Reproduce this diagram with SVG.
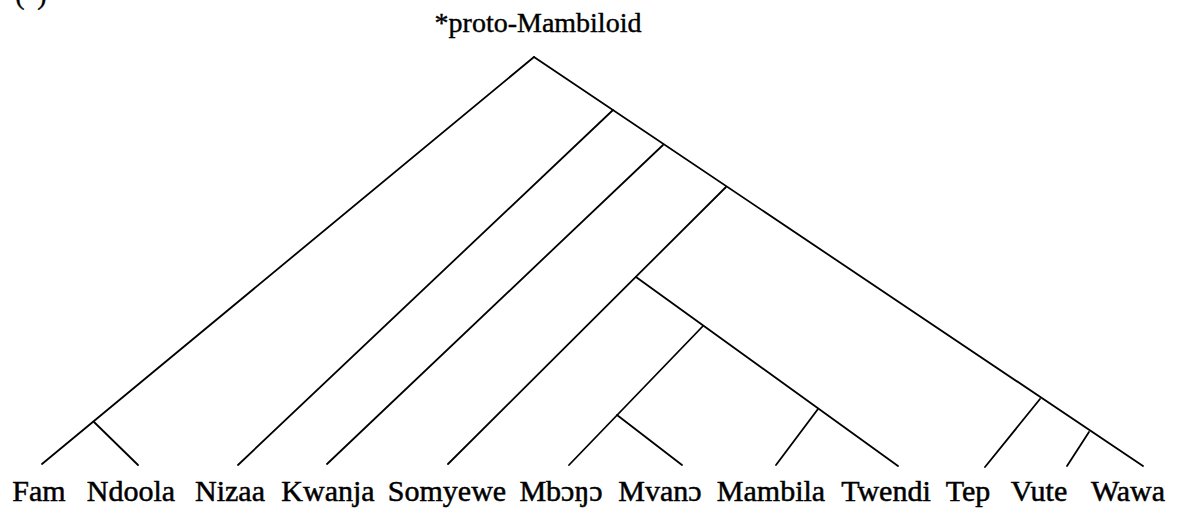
<svg xmlns="http://www.w3.org/2000/svg" width="1184" height="510" viewBox="0 0 1184 510">
<style>
  .edge { stroke: #000; stroke-width: 1.8; fill: none; stroke-linecap: round; }
  .lbl { font-family: "Liberation Serif", "Times New Roman", serif; font-size: 30px; fill: #000; stroke: #000; stroke-width: 0.5; text-anchor: middle; }
  .title { font-family: "Liberation Serif", "Times New Roman", serif; font-size: 28px; fill: #000; stroke: #000; stroke-width: 0.4; text-anchor: middle; }
</style>
<rect width="1184" height="510" fill="#fff"/>
<text class="title" x="20" y="4">(</text>
<text class="title" x="42" y="4">)</text>
<g id="root"><text class="title" x="538" y="32">*proto-Mambiloid</text></g>
<g id="connectors">
  <line class="edge" x1="534" y1="57" x2="42" y2="464"/>
  <line class="edge" x1="534" y1="57" x2="1143" y2="466"/>
  <line class="edge" x1="94" y1="422" x2="138" y2="465"/>
  <line class="edge" x1="613" y1="110" x2="238" y2="465"/>
  <line class="edge" x1="663" y1="145" x2="327" y2="464"/>
  <line class="edge" x1="726" y1="187" x2="448" y2="464"/>
  <line class="edge" x1="636" y1="277" x2="898" y2="466"/>
  <line class="edge" x1="703" y1="326" x2="569" y2="465"/>
  <line class="edge" x1="617" y1="415" x2="682" y2="465"/>
  <line class="edge" x1="818" y1="409" x2="776" y2="465"/>
  <line class="edge" x1="1040" y1="399" x2="985" y2="467"/>
  <line class="edge" x1="1089" y1="432" x2="1067" y2="466"/>
</g>
<g id="leaf-fam"><text class="lbl" x="39" y="501">Fam</text></g>
<g id="leaf-ndoola"><text class="lbl" x="131" y="501">Ndoola</text></g>
<g id="leaf-nizaa"><text class="lbl" x="230" y="501">Nizaa</text></g>
<g id="leaf-kwanja"><text class="lbl" x="328" y="501">Kwanja</text></g>
<g id="leaf-somyewe"><text class="lbl" x="447" y="501">Somyewe</text></g>
<g id="leaf-mbongo"><text class="lbl" x="561" y="501">Mbɔŋɔ</text></g>
<g id="leaf-mvano"><text class="lbl" x="660" y="501">Mvanɔ</text></g>
<g id="leaf-mambila"><text class="lbl" x="771" y="501">Mambila</text></g>
<g id="leaf-twendi"><text class="lbl" x="886" y="501">Twendi</text></g>
<g id="leaf-tep"><text class="lbl" x="968" y="501">Tep</text></g>
<g id="leaf-vute"><text class="lbl" x="1039" y="501">Vute</text></g>
<g id="leaf-wawa"><text class="lbl" x="1128" y="501">Wawa</text></g>
</svg>
